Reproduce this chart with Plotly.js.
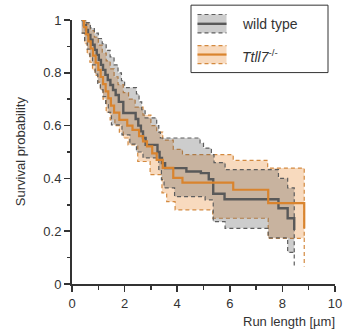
<!DOCTYPE html>
<html>
<head>
<meta charset="utf-8">
<script src="https://cdn.plot.ly/plotly-3.0.1.min.js"></script>
<style>html,body{margin:0;padding:0;background:#fff;}#chart{width:346px;height:333px;}</style>
</head>
<body>
<div id="chart"></div>
<script>
// Wild type Kaplan-Meier curve
var wtX = [0.36, 0.45, 0.53, 0.61, 0.70, 0.78, 0.86, 0.94, 1.02, 1.10, 1.18, 1.27, 1.36, 1.46, 1.56, 1.66, 1.78, 1.95, 2.42, 2.52, 2.62, 2.70, 2.80, 3.25, 3.33, 3.42, 3.54, 4.35, 4.90, 5.20, 5.37, 5.80, 7.85, 8.20, 8.45];
var wtY = [1.00, 0.98, 0.962, 0.943, 0.925, 0.906, 0.887, 0.868, 0.849, 0.830, 0.811, 0.792, 0.773, 0.754, 0.735, 0.716, 0.69, 0.648, 0.625, 0.60, 0.578, 0.553, 0.527, 0.50, 0.477, 0.458, 0.439, 0.426, 0.42, 0.397, 0.342, 0.321, 0.287, 0.249, 0.205];
// Wild type confidence band
var wtUpX = [0.36, 0.55, 0.70, 0.85, 1.00, 1.15, 1.30, 1.45, 1.60, 1.75, 1.88, 2.00, 2.45, 2.55, 2.65, 2.78, 3.22, 3.30, 3.36, 4.87, 5.00, 5.30, 5.40, 5.82, 7.85, 8.20, 8.45];
var wtUpY = [1.00, 0.99, 0.97, 0.95, 0.93, 0.91, 0.885, 0.86, 0.83, 0.80, 0.77, 0.744, 0.72, 0.69, 0.66, 0.629, 0.60, 0.575, 0.553, 0.534, 0.515, 0.49, 0.46, 0.433, 0.40, 0.364, 0.12];
var wtLoX = [0.36, 0.48, 0.58, 0.68, 0.78, 0.88, 0.98, 1.08, 1.18, 1.28, 1.38, 1.50, 1.90, 2.20, 2.45, 2.70, 3.30, 3.40, 3.50, 3.90, 5.06, 5.37, 5.82, 7.46, 8.20, 8.45];
var wtLoY = [0.95, 0.92, 0.89, 0.86, 0.83, 0.795, 0.76, 0.735, 0.71, 0.68, 0.65, 0.603, 0.565, 0.53, 0.50, 0.478, 0.43, 0.395, 0.364, 0.331, 0.319, 0.236, 0.211, 0.175, 0.12, 0.07];

// Ttll7-/- Kaplan-Meier curve
var koX = [0.38, 0.46, 0.54, 0.62, 0.71, 0.80, 0.90, 1.00, 1.09, 1.18, 1.28, 1.38, 1.48, 1.60, 1.80, 2.10, 2.30, 2.55, 2.70, 2.85, 3.05, 3.22, 3.45, 3.85, 4.20, 6.13, 7.46, 8.83];
var koY = [1.00, 0.973, 0.946, 0.919, 0.892, 0.865, 0.838, 0.811, 0.784, 0.757, 0.730, 0.703, 0.676, 0.649, 0.622, 0.600, 0.584, 0.560, 0.540, 0.521, 0.495, 0.470, 0.440, 0.402, 0.384, 0.357, 0.306, 0.210];
// Ttll7-/- confidence band
var koUpX = [0.38, 0.55, 0.70, 0.85, 1.00, 1.15, 1.30, 1.45, 1.60, 1.75, 1.95, 2.15, 2.40, 2.70, 3.00, 3.22, 3.45, 3.85, 4.20, 6.13, 7.44, 8.83];
var koUpY = [1.00, 0.985, 0.96, 0.935, 0.905, 0.875, 0.845, 0.815, 0.785, 0.755, 0.725, 0.70, 0.67, 0.64, 0.60, 0.575, 0.545, 0.51, 0.49, 0.468, 0.439, 0.173];
var koLoX = [0.38, 0.48, 0.58, 0.68, 0.78, 0.88, 0.98, 1.08, 1.18, 1.30, 1.45, 1.63, 1.80, 1.95, 2.13, 2.50, 2.97, 3.42, 3.60, 3.92, 5.35, 7.46, 8.83];
var koLoY = [0.95, 0.91, 0.87, 0.84, 0.81, 0.79, 0.765, 0.735, 0.70, 0.65, 0.622, 0.60, 0.575, 0.553, 0.527, 0.464, 0.414, 0.345, 0.312, 0.281, 0.249, 0.173, 0.066];

var seriesNames = ['wild type', '<i>Ttll7</i><sup>-/-</sup>'];
var xTicks = [0, 2, 4, 6, 8, 10];
var yTicks = [0, 0.2, 0.4, 0.6, 0.8, 1];

var GRAY_LINE = '#595959', GRAY_DASH = '#5e5e5e', GRAY_FILL = 'rgba(90,90,90,0.30)';
var OR_LINE = '#d9842e', OR_DASH = '#d38a40', OR_FILL = 'rgba(235,150,70,0.35)';
var FONT = 'Liberation Sans, Arial, sans-serif';
var dashPat = '4px,3px';

var traces = [
  {x: koUpX, y: koUpY, mode: 'lines', line: {shape: 'hv', color: OR_DASH, width: 1.2, dash: dashPat}, hoverinfo: 'skip'},
  {x: koLoX, y: koLoY, mode: 'lines', fill: 'tonexty', fillcolor: OR_FILL, line: {shape: 'hv', color: OR_DASH, width: 1.2, dash: dashPat}, hoverinfo: 'skip'},
  {x: wtUpX, y: wtUpY, mode: 'lines', line: {shape: 'hv', color: GRAY_DASH, width: 1.2, dash: dashPat}, hoverinfo: 'skip'},
  {x: wtLoX, y: wtLoY, mode: 'lines', fill: 'tonexty', fillcolor: GRAY_FILL, line: {shape: 'hv', color: GRAY_DASH, width: 1.2, dash: dashPat}, hoverinfo: 'skip'},
  {x: wtX, y: wtY, mode: 'lines', name: seriesNames[0], line: {shape: 'hv', color: GRAY_LINE, width: 2.4}},
  {x: koX, y: koY, mode: 'lines', name: seriesNames[1], line: {shape: 'hv', color: OR_LINE, width: 2.2}}
];

// legend geometry in paper coordinates
var lgX0 = 0.4525, lgX1 = 0.9734, lgY0 = 0.8008, lgY1 = 1.0562;
var swX0 = 0.4772, swX1 = 0.5875;
var rows = [
  {top: 1.0209, bot: 0.9514, mid: 0.9856, fill: GRAY_FILL, dash: GRAY_DASH, line: GRAY_LINE, lw: 2.4, ty: 0.9856},
  {top: 0.9032, bot: 0.8349, mid: 0.8691, fill: OR_FILL, dash: OR_DASH, line: OR_LINE, lw: 2.2, ty: 0.8630}
];
var shapes = [{type: 'rect', xref: 'paper', yref: 'paper', x0: lgX0, x1: lgX1, y0: lgY0, y1: lgY1, line: {color: '#333', width: 1}, fillcolor: '#fff'}];
var annotations = [];
rows.forEach(function (r, i) {
  shapes.push({type: 'rect', xref: 'paper', yref: 'paper', x0: swX0, x1: swX1, y0: r.bot, y1: r.top, line: {width: 0}, fillcolor: r.fill});
  shapes.push({type: 'line', xref: 'paper', yref: 'paper', x0: swX0, x1: swX1, y0: r.top, y1: r.top, line: {color: r.dash, width: 1.2, dash: dashPat}});
  shapes.push({type: 'line', xref: 'paper', yref: 'paper', x0: swX0, x1: swX1, y0: r.bot, y1: r.bot, line: {color: r.dash, width: 1.2, dash: dashPat}});
  shapes.push({type: 'line', xref: 'paper', yref: 'paper', x0: swX0, x1: swX1, y0: r.mid, y1: r.mid, line: {color: r.line, width: r.lw}});
  annotations.push({xref: 'paper', yref: 'paper', x: 0.6388, y: r.ty, xanchor: 'left', yanchor: 'middle', showarrow: false, text: seriesNames[i], font: {family: FONT, size: 14, color: '#333'}});
});
annotations.push({xref: 'paper', yref: 'paper', x: 1.0076, y: -0.143, xanchor: 'right', yanchor: 'middle', showarrow: false, text: 'Run length [µm]', font: {family: FONT, size: 13, color: '#333'}});
annotations.push({xref: 'paper', yref: 'paper', x: -0.1977, y: 0.503, xanchor: 'center', yanchor: 'middle', textangle: -90, showarrow: false, text: 'Survival probability', font: {family: FONT, size: 13, color: '#333'}});

var axisCommon = {
  showgrid: false, zeroline: false, showline: true, linecolor: '#333', linewidth: 2,
  ticks: 'outside', ticklen: 6, tickwidth: 1.5, tickcolor: '#333',
  tickfont: {family: FONT, size: 13, color: '#333'}
};
var layout = {
  width: 346, height: 333,
  margin: {l: 72, r: 11, t: 20, b: 49},
  paper_bgcolor: '#fff', plot_bgcolor: '#fff',
  showlegend: false,
  xaxis: Object.assign({}, axisCommon, {range: [0, 10], tickvals: xTicks, ticktext: xTicks.map(String),
    minor: {dtick: 1, tick0: 0, ticks: 'outside', ticklen: 3.5, tickwidth: 1.5, tickcolor: '#333'}}),
  yaxis: Object.assign({}, axisCommon, {range: [0, 1], tickvals: yTicks, ticktext: yTicks.map(String),
    minor: {dtick: 0.1, tick0: 0, ticks: 'outside', ticklen: 3.5, tickwidth: 1.5, tickcolor: '#333'}}),
  shapes: shapes,
  annotations: annotations
};
Plotly.newPlot('chart', traces, layout, {displayModeBar: false, staticPlot: true});
</script>
</body>
</html>
